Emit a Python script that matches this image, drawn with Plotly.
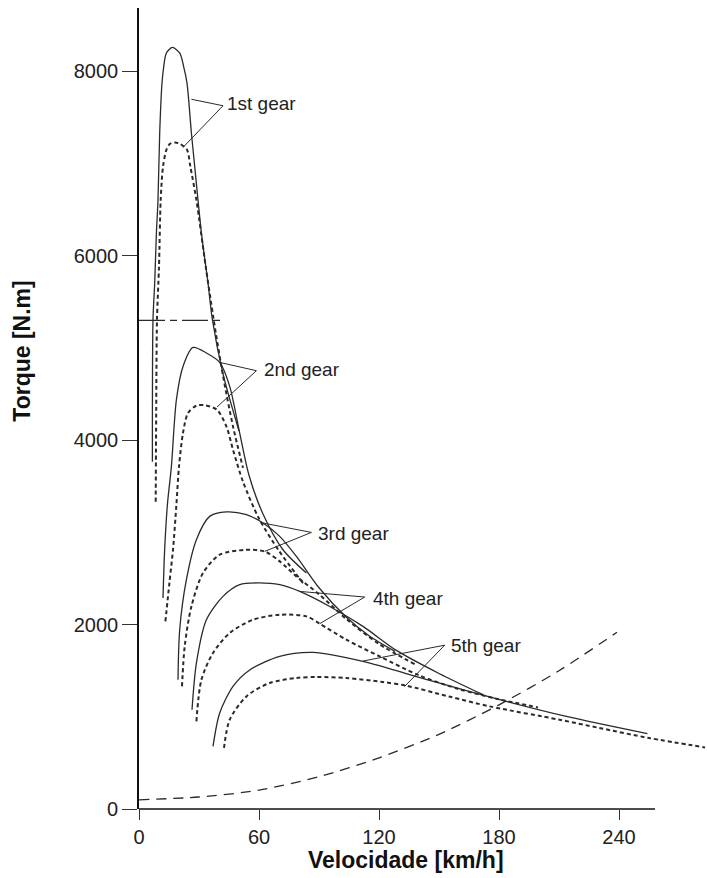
import plotly.graph_objects as go

# ---------------- data ----------------
speed_1s = [6.7, 7.0, 7.85, 8.7, 9.5, 10.35, 11.5, 12.35, 13.7, 16.7, 20.35, 22.35, 24.0, 26.2, 27.85, 29.5, 31.2, 34.5, 36.7, 42.0, 50.0]
torque_1s = [3767, 5307, 5705, 6247, 6606, 7332, 7874, 8050, 8200, 8260, 8200, 8050, 7874, 7332, 6970, 6606, 6247, 5705, 5307, 4720, 4100]

speed_1d = [8.35, 8.6, 9.0, 10.0, 10.85, 12.0, 13.7, 15.5, 17.85, 20.5, 24.0, 25.7, 28.7, 33.35, 37.35, 42.0, 47.0, 52.0]
torque_1d = [3333, 4300, 5307, 5885, 6606, 6966, 7150, 7215, 7230, 7215, 7150, 6966, 6606, 5885, 5307, 4700, 4150, 3700]

speed_2s = [12.0, 12.8, 14.2, 16.2, 18.7, 22.0, 27.0, 33.7, 40.35, 45.35, 50.35, 55.0, 62.0, 72.0, 83.7]
torque_2s = [2289, 2800, 3300, 3716, 4439, 4800, 5006, 4946, 4844, 4584, 4078, 3620, 3200, 2812, 2560]

speed_2d = [13.2, 15.2, 17.0, 18.7, 20.0, 22.0, 24.5, 28.7, 32.85, 39.0, 43.7, 47.0, 52.0, 60.0, 70.0, 82.0]
torque_2d = [2035, 2450, 2812, 3300, 3716, 4078, 4295, 4374, 4380, 4330, 4150, 3897, 3550, 3150, 2800, 2450]

speed_3s = [19.5, 20.35, 23.7, 28.7, 35.35, 43.7, 53.7, 62.0, 70.35, 78.7, 90.0, 103.7, 115.0, 128.0]
torque_3s = [1402, 1945, 2487, 2921, 3174, 3222, 3192, 3102, 2957, 2740, 2400, 2080, 1880, 1710]

speed_3d = [21.5, 22.85, 26.2, 32.0, 40.35, 52.85, 62.85, 70.35, 78.7, 90.0, 103.7, 120.0, 138.0]
torque_3d = [1330, 1764, 2197, 2560, 2758, 2810, 2794, 2686, 2523, 2330, 2060, 1790, 1570]

speed_4s = [26.5, 28.7, 33.7, 42.0, 50.35, 59.5, 70.35, 80.35, 95.35, 112.0, 128.7, 150.0, 172.0]
torque_4s = [1077, 1583, 2053, 2306, 2433, 2452, 2433, 2360, 2197, 1981, 1720, 1470, 1240]

speed_4d = [28.7, 31.2, 37.0, 45.35, 57.0, 70.35, 83.7, 90.35, 103.7, 120.35, 140.0, 160.0, 180.0, 199.5]
torque_4d = [950, 1402, 1692, 1909, 2053, 2107, 2089, 2010, 1836, 1655, 1450, 1300, 1190, 1102]

speed_5s = [37.0, 40.35, 47.0, 55.35, 70.35, 87.0, 112.0, 145.35, 180.35, 213.7, 254.2]
torque_5s = [679, 1041, 1330, 1508, 1655, 1698, 1601, 1395, 1186, 1004, 817]

speed_5d = [42.5, 45.35, 53.7, 65.35, 78.7, 88.7, 103.7, 122.0, 133.7, 155.0, 175.35, 210.35, 230.0, 255.0, 283.0]
torque_5d = [662, 968, 1221, 1367, 1421, 1432, 1421, 1377, 1337, 1220, 1113, 968, 880, 770, 668]

speed_res = [0, 30, 60, 90, 120, 150, 180, 210, 239]
torque_res = [100, 130, 205, 350, 555, 810, 1130, 1500, 1917]

speed_ref = [0, 43]
torque_ref = [5300, 5300]

gear_labels = ["1st gear", "2nd gear", "3rd gear", "4th gear", "5th gear"]
label_x = [42.85, 61.5, 88.7, 116.2, 155.0]
label_y = [7657, 4765, 2993, 2281, 1771]
apex_x = [42.0, 58.7, 86.2, 112.85, 152.85]
apex_y = [7628, 4754, 3000, 2299, 1777]
ptr_solid_x = [26.2, 40.35, 62.0, 80.35, 112.0]
ptr_solid_y = [7698, 4844, 3102, 2360, 1605]
ptr_dot_x = [22.0, 39.0, 62.85, 90.35, 132.85]
ptr_dot_y = [7176, 4360, 2794, 2010, 1330]

x_ticks = [0, 60, 120, 180, 240]
y_ticks = [0, 2000, 4000, 6000, 8000]

X_MAX = 284.0
X_AXIS_END = 258.0
Y_MAX = 8688.0

# ---------------- figure ----------------
INK = "#2a2a2a"
fig = go.Figure()

solid_sets = [(speed_1s, torque_1s), (speed_2s, torque_2s), (speed_3s, torque_3s),
              (speed_4s, torque_4s), (speed_5s, torque_5s)]
dot_sets = [(speed_1d, torque_1d), (speed_2d, torque_2d), (speed_3d, torque_3d),
            (speed_4d, torque_4d), (speed_5d, torque_5d)]

for sx, sy in solid_sets:
    fig.add_trace(go.Scatter(x=sx, y=sy, mode="lines",
                             line=dict(color=INK, width=1.3, shape="spline", smoothing=0.8),
                             hoverinfo="skip", showlegend=False))
for sx, sy in dot_sets:
    fig.add_trace(go.Scatter(x=sx, y=sy, mode="lines",
                             line=dict(color=INK, width=2.0, dash="4px,3px", shape="spline", smoothing=0.8),
                             hoverinfo="skip", showlegend=False))

fig.add_trace(go.Scatter(x=speed_res, y=torque_res, mode="lines",
                         line=dict(color=INK, width=1.3, dash="10px,7px", shape="spline", smoothing=0.8),
                         hoverinfo="skip", showlegend=False))
fig.add_trace(go.Scatter(x=speed_ref, y=torque_ref, mode="lines",
                         line=dict(color=INK, width=1.2, dash="26px,5px,7px,5px"),
                         hoverinfo="skip", showlegend=False))

# leader lines
for i in range(len(gear_labels)):
    fig.add_trace(go.Scatter(x=[ptr_solid_x[i], apex_x[i], ptr_dot_x[i]],
                             y=[ptr_solid_y[i], apex_y[i], ptr_dot_y[i]],
                             mode="lines", line=dict(color=INK, width=1.0),
                             hoverinfo="skip", showlegend=False))
    fig.add_annotation(x=label_x[i], y=label_y[i], text=gear_labels[i], showarrow=False,
                       xanchor="left", yanchor="middle",
                       font=dict(family="Liberation Sans", size=19, color="#222"))

# axis titles
fig.add_annotation(xref="paper", yref="paper", x=(406 - 139) / 568, y=-(860 - 809) / 801,
                   text="<b>Velocidade [km/h]</b>", showarrow=False,
                   xanchor="center", yanchor="middle",
                   font=dict(family="Liberation Sans", size=23, color="#111"))
fig.add_annotation(xref="paper", yref="paper", x=(21.7 - 139) / 568, y=(809 - 351) / 801,
                   text="<b>Torque [N.m]</b>", showarrow=False, textangle=-90,
                   xanchor="center", yanchor="middle",
                   font=dict(family="Liberation Sans", size=23, color="#111"))

# x axis line (ends before the plot edge)
fig.add_shape(type="line", xref="paper", yref="paper", x0=0, x1=X_AXIS_END / X_MAX, y0=0, y1=0,
              line=dict(color="#111", width=1.6))

fig.update_layout(
    width=707, height=878,
    margin=dict(l=139, r=0, t=8, b=69),
    paper_bgcolor="white", plot_bgcolor="white",
    showlegend=False,
    xaxis=dict(range=[0, X_MAX], tickvals=x_ticks, ticktext=[str(v) for v in x_ticks],
               showgrid=False, zeroline=False, showline=False,
               ticks="outside", ticklen=10, tickcolor="#333", tickwidth=1,
               tickfont=dict(family="Liberation Sans", size=20, color="#222")),
    yaxis=dict(range=[0, Y_MAX], tickvals=y_ticks, ticktext=[str(v) for v in y_ticks],
               showgrid=False, zeroline=False, showline=True, linecolor="#111", linewidth=1.6,
               ticks="outside", ticklen=15, tickcolor="#333", tickwidth=1,
               tickfont=dict(family="Liberation Sans", size=20, color="#222")),
)

fig.write_html("out.html")
